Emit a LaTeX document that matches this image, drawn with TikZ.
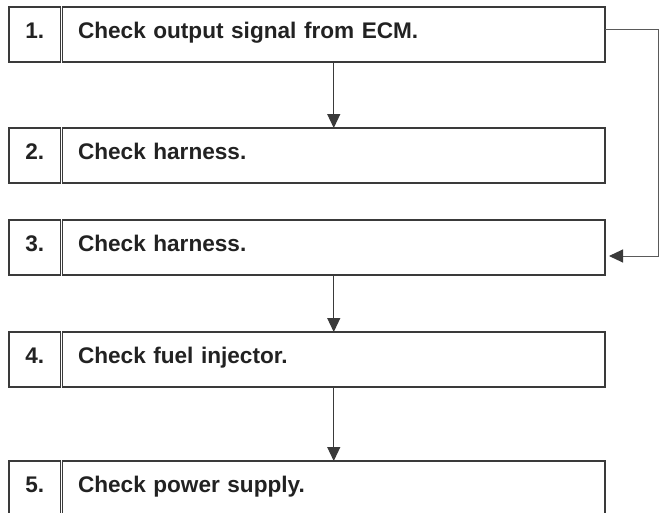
\documentclass[tikz,border=0pt]{standalone}
\usepackage{fontspec}
\setmainfont{Liberation Sans}
\usepackage{xcolor}
\usetikzlibrary{arrows.meta,positioning,calc}
\definecolor{linec}{HTML}{3A3A3A}
\definecolor{textc}{HTML}{222222}
\definecolor{loopc}{HTML}{5A5A5A}
\tikzset{
  cell/.style = {draw = linec, line width = 1.3pt, outer sep = 0pt, inner ysep = 0pt,
    text height = 31pt, text depth = 24pt, text = textc,
    font = \bfseries\fontsize{22.6}{27}\selectfont},
  numcell/.style = {cell, anchor = north west, minimum width = 51.5pt, inner xsep = 0pt},
  textcell/.style = {cell, right = 2pt of #1, text width = 511.5pt, inner xsep = 15.5pt, align = left},
  flow/.style = {-{Triangle[length = 14pt, width = 13pt, color = linec]}, line width = 1.2pt, draw = linec}
}

\begin{document}
\begin{tikzpicture}[x = 1pt, y = -1pt]
\useasboundingbox (0,0) rectangle (659,512);
\clip (0,0) rectangle (659,512);
\node[numcell] (n1) at (9,7) {1.};
\node[textcell = n1] (t1) {Check output signal from ECM.};
\node[numcell] (n2) at (9,128) {2.};
\node[textcell = n2] (t2) {Check harness.};
\node[numcell] (n3) at (9,220) {3.};
\node[textcell = n3] (t3) {Check harness.};
\node[numcell] (n4) at (9,332) {4.};
\node[textcell = n4] (t4) {Check fuel injector.};
\node[numcell] (n5) at (9,461) {5.};
\node[textcell = n5] (t5) {Check power supply.};
\draw[flow] (t1) -- (t2);
\draw[flow] (t3) -- (t4);
\draw[flow] (t4) -- (t5);
% loop from step 1 round to step 3
\coordinate (r1) at ($(t1.north east)+(0,22)$);
\coordinate (r3) at ($(t3.south east)+(4,-19)$);
\draw[flow, draw = loopc, line width = 1pt] (r1) -- ++(53,0) |- (r3);
\end{tikzpicture}
\end{document}
